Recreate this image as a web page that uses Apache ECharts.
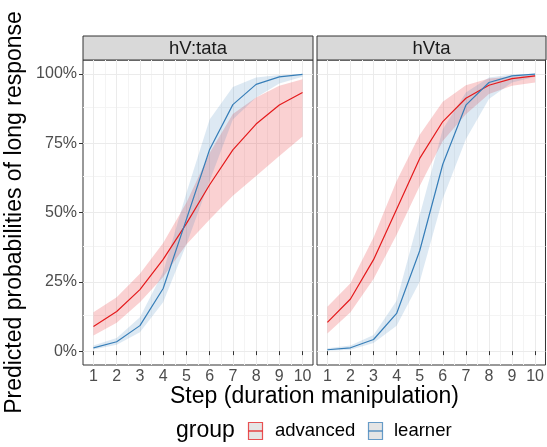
<!DOCTYPE html>
<html>
<head>
<meta charset="utf-8">
<script src="https://cdn.jsdelivr.net/npm/echarts@6/dist/echarts.min.js"></script>
<style>
  html, body { margin: 0; padding: 0; background: #fff; }
  #chart { width: 547px; height: 447px; }
</style>
</head>
<body>
<div id="chart"></div>
<script>
// Data
const steps = [1, 2, 3, 4, 5, 6, 7, 8, 9, 10];
const panels = ['hV:tata', 'hVta'];
const groups = ['advanced', 'learner'];

// hV:tata
const tataAdvFit = [0.089, 0.143, 0.222, 0.331, 0.460, 0.600, 0.726, 0.819, 0.888, 0.933];
const tataAdvLo  = [0.056, 0.102, 0.176, 0.267, 0.385, 0.475, 0.560, 0.632, 0.704, 0.774];
const tataAdvHi  = [0.140, 0.194, 0.279, 0.390, 0.535, 0.715, 0.855, 0.915, 0.957, 0.981];
const tataLrnFit = [0.012, 0.034, 0.092, 0.226, 0.475, 0.727, 0.889, 0.962, 0.989, 0.998];
const tataLrnLo  = [0.006, 0.023, 0.068, 0.176, 0.385, 0.614, 0.835, 0.915, 0.965, 0.990];
const tataLrnHi  = [0.020, 0.047, 0.122, 0.285, 0.570, 0.835, 0.953, 0.987, 0.996, 0.999];

// hVta
const taAdvFit = [0.104, 0.188, 0.330, 0.512, 0.695, 0.828, 0.912, 0.959, 0.983, 0.993];
const taAdvLo  = [0.064, 0.140, 0.260, 0.420, 0.596, 0.758, 0.854, 0.927, 0.957, 0.969];
const taAdvHi  = [0.160, 0.245, 0.410, 0.614, 0.780, 0.899, 0.959, 0.983, 0.990, 0.996];
const taLrnFit = [0.005, 0.012, 0.042, 0.136, 0.362, 0.674, 0.887, 0.969, 0.993, 0.999];
const taLrnLo  = [0.001, 0.005, 0.029, 0.092, 0.250, 0.550, 0.764, 0.909, 0.969, 0.990];
const taLrnHi  = [0.010, 0.020, 0.058, 0.182, 0.490, 0.800, 0.933, 0.987, 0.998, 1.000];

// ticks and grid breaks
const xTicks = [1, 2, 3, 4, 5, 6, 7, 8, 9, 10];
const xMinor = [1.5, 2.5, 3.5, 4.5, 5.5, 6.5, 7.5, 8.5, 9.5];
const yTicks = [0, 0.25, 0.5, 0.75, 1];
const yMinor = [0.125, 0.375, 0.625, 0.875];
const yTickLabels = ['0%', '25%', '50%', '75%', '100%'];

const FONT = 'Liberation Sans, Arial, sans-serif';
const colors = { advanced: '#E41A1C', learner: '#377EB8' };
const fills = { advanced: 'rgba(228,26,28,0.2)', learner: 'rgba(55,126,184,0.17)' };

const panelData = [
  { advanced: [tataAdvFit, tataAdvLo, tataAdvHi], learner: [tataLrnFit, tataLrnLo, tataLrnHi] },
  { advanced: [taAdvFit, taAdvLo, taAdvHi], learner: [taLrnFit, taLrnLo, taLrnHi] }
];

const gridBoxes = [
  { left: 83, top: 60, width: 230, height: 305 },
  { left: 317, top: 60, width: 229, height: 305 }
];

const pairs = (ys) => steps.map((s, i) => [s, ys[i]]);

// ribbon drawn as one polygon through the axis scales
const ribbonRender = (fill) => (params, api) => {
  if (params.dataIndexInside !== 0) return null;
  const n = params.dataInsideLength;
  const upper = [], lower = [];
  for (let i = 0; i < n; i++) {
    upper.push(api.coord([api.value(0, i), api.value(2, i)]));
    lower.push(api.coord([api.value(0, i), api.value(1, i)]));
  }
  return {
    type: 'polygon',
    shape: { points: upper.concat(lower.reverse()) },
    style: { fill: fill, stroke: null }
  };
};

const chart = echarts.init(document.getElementById('chart'));

const series = [];
panelData.forEach((pd, gi) => {
  // grid lines (major / minor) behind everything
  const lines = [];
  xMinor.forEach(v => lines.push({ xAxis: v, lineStyle: { color: '#f4f4f4', width: 1 } }));
  yMinor.forEach(v => lines.push({ yAxis: v, lineStyle: { color: '#f4f4f4', width: 1 } }));
  xTicks.forEach(v => lines.push({ xAxis: v, lineStyle: { color: '#ebebeb', width: 1 } }));
  yTicks.forEach(v => lines.push({ yAxis: v, lineStyle: { color: '#ebebeb', width: 1 } }));
  series.push({
    type: 'line', xAxisIndex: gi, yAxisIndex: gi, data: [], silent: true, z: 0,
    markLine: {
      silent: true, symbol: ['none', 'none'], label: { show: false }, z: 0,
      lineStyle: { type: 'solid' }, emphasis: { disabled: true },
      data: lines
    }
  });

  // ribbons
  groups.forEach(g => {
    const [fit, lo, hi] = pd[g];
    series.push({
      type: 'custom', xAxisIndex: gi, yAxisIndex: gi, silent: true, z: 2,
      data: steps.map((s, i) => [s, lo[i], hi[i]]),
      encode: { x: 0, y: [1, 2] },
      renderItem: ribbonRender(fills[g])
    });
  });
  // fitted lines
  groups.forEach(g => {
    series.push({
      name: g, type: 'line', xAxisIndex: gi, yAxisIndex: gi,
      data: pairs(pd[g][0]), symbol: 'none', z: 3,
      lineStyle: { color: colors[g], width: 1.2 }
    });
  });
});

const yLabel = (v) => {
  const i = yTicks.findIndex(t => Math.abs(t - v) < 1e-9);
  return i >= 0 ? yTickLabels[i] : '';
};

const option = {
  animation: false,
  backgroundColor: '#fff',
  grid: gridBoxes.map(b => Object.assign({
    show: true, borderColor: '#333333', borderWidth: 1, backgroundColor: 'transparent', containLabel: false
  }, b)),
  xAxis: [0, 1].map(gi => ({
    type: 'value', gridIndex: gi, min: 0.55, max: 10.45,
    axisLine: { show: false },
    splitLine: { show: false },
    axisTick: { show: true, customValues: xTicks, length: 4, lineStyle: { color: '#333333' } },
    axisLabel: { customValues: xTicks, color: '#4d4d4d', fontSize: 16, fontFamily: FONT, margin: 4 }
  })),
  yAxis: [0, 1].map(gi => ({
    type: 'value', gridIndex: gi, min: -0.05, max: 1.05,
    axisLine: { show: false },
    splitLine: { show: false },
    axisTick: { show: gi === 0, customValues: yTicks, length: 4, lineStyle: { color: '#333333' } },
    axisLabel: {
      show: gi === 0, customValues: yTicks, color: '#4d4d4d', fontSize: 16, fontFamily: FONT,
      margin: 6, formatter: yLabel
    },
    name: gi === 0 ? 'Predicted probabilities of long response' : '',
    nameLocation: 'middle', nameGap: 57,
    nameTextStyle: { fontSize: 23, color: '#000', fontFamily: FONT }
  })),
  graphic: [
    // facet strips
    ...gridBoxes.map((b, i) => ({
      type: 'group',
      children: [
        { type: 'rect', shape: { x: b.left, y: 36, width: b.width, height: 24 },
          style: { fill: '#d9d9d9', stroke: '#333333', lineWidth: 1 } },
        { type: 'text', x: b.left + b.width / 2, y: 48.5,
          style: { text: panels[i], align: 'center', verticalAlign: 'middle',
                   textAlign: 'center', textVerticalAlign: 'middle',
                   fontSize: 18.5, fontFamily: FONT, fill: '#1a1a1a' } }
      ]
    })),
    // x axis title
    { type: 'text', x: 314.5, y: 397,
      style: { text: 'Step (duration manipulation)', align: 'center', verticalAlign: 'middle',
               textAlign: 'center', textVerticalAlign: 'middle',
               fontSize: 23, fontFamily: FONT, fill: '#000' } },
    // legend
    { type: 'text', x: 176, y: 431,
      style: { text: 'group', align: 'left', verticalAlign: 'middle',
               textAlign: 'left', textVerticalAlign: 'middle',
               fontSize: 23, fontFamily: FONT, fill: '#000' } },
    ...groups.map((g, i) => {
      const kx = [248.5, 368.5][i];
      const tx = [275, 394][i];
      return {
        type: 'group',
        children: [
          { type: 'rect', shape: { x: kx, y: 422.5, width: 14, height: 17 },
            style: { fill: '#dcdcdc', stroke: colors[g], lineWidth: 1.2, opacity: 0.75 } },
          { type: 'line', shape: { x1: kx, y1: 431, x2: kx + 14, y2: 431 },
            style: { stroke: colors[g], lineWidth: 1.2 } },
          { type: 'text', x: tx, y: 431,
            style: { text: g, align: 'left', verticalAlign: 'middle',
                     textAlign: 'left', textVerticalAlign: 'middle',
                     fontSize: 18.5, fontFamily: FONT, fill: '#000' } }
        ]
      };
    })
  ],
  series: series
};

chart.setOption(option);
window.addEventListener('resize', () => chart.resize());
</script>
</body>
</html>
